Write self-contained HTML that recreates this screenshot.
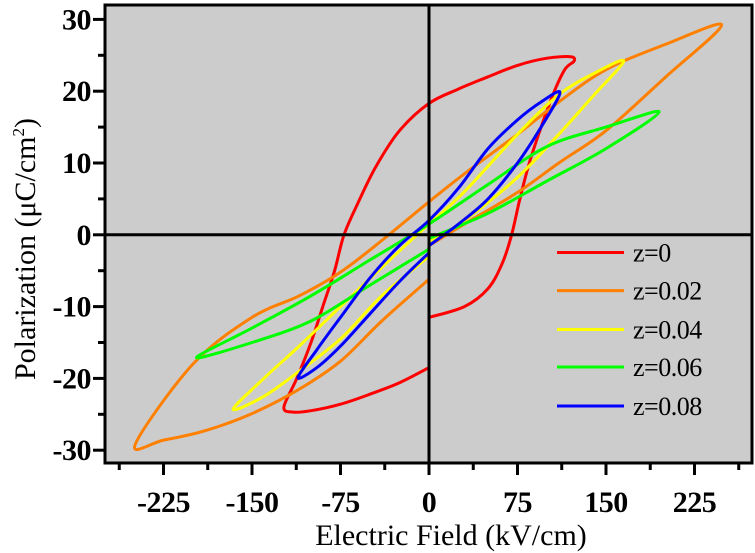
<!DOCTYPE html>
<html><head><meta charset="utf-8"><style>
body{margin:0;background:#fff;}
svg{display:block;font-family:"Liberation Serif",serif;}
</style></head><body>
<svg id="chart" width="755" height="553" viewBox="0 0 755 553"></svg>
<script>
const xTicks=[-225,-150,-75,0,75,150,225];
const yTicks=[-30,-20,-10,0,10,20,30];
const seriesNames=["z=0","z=0.02","z=0.04","z=0.06","z=0.08"];
const seriesColors=["#ff0000","#ff8000","#ffff00","#00ff00","#0000ff"];
const e0=[0,30,50,62,70,77,85,95,105,115,123,120,100,75,50,25,0,-25,-45,-60,-72,-80,-90,-100,-112,-123,-115,-100,-75,-50,-25,0];
const p0=[-11.5,-10,-7.5,-4,0,5,10,15,19.5,23,24.2,24.8,24.6,23.6,22,20.3,18.3,14.5,9.5,4.5,0,-5,-10,-15,-20,-24,-24.7,-24.5,-23.6,-22.2,-20.6,-18.5];
const e1=[0,30,75,110,150,200,248,200,150,110,75,30,0,-40,-75,-110,-150,-200,-249,-225,-190,-150,-110,-75,-40,0];
const p1=[-1.5,1.5,5.9,10,14.5,21.9,29.2,26.5,23,18.5,14,8.5,4.6,-0.8,-5.2,-8.5,-11.5,-18,-29.2,-28.6,-27.3,-24.9,-21.5,-17.6,-12,-6.2];
const e2=[0,30,75,110,140,165,140,110,75,30,0,-30,-75,-110,-140,-166,-140,-110,-75,-40,0];
const p2=[-1,2,8,14,19.5,24.2,22.5,19.5,14,6,1.5,-3,-10,-15.5,-20,-24.3,-22.5,-19,-14.5,-8.5,-3];
const e3=[0,50,100,150,195,150,100,50,0,-50,-100,-150,-197,-150,-100,-50,0];
const p3=[-0.5,3,7.5,12,17.1,15,12.3,7,1.5,-3.5,-8.5,-13,-17.1,-15,-12,-7,-2];
const e4=[0,25,50,75,95,111,95,75,50,25,0,-25,-50,-75,-95,-111,-95,-75,-50,-25,0];
const p4=[-1.5,1.5,5,10,15,19.8,18.5,16,12,6.5,2,-1.5,-6,-11.5,-16,-19.9,-18.5,-15.5,-11,-6.5,-2.5];
const seriesE=[e0,e1,e2,e3,e4], seriesP=[p0,p1,p2,p3,p4];

const L=105,R=752,T=5,B=463, X0=429, kx=1.18, Y0=234.8, ky=7.18;
const sx=v=>X0+v*kx, sy=v=>Y0-v*ky;
const svg=document.getElementById('chart');
const NS="http://www.w3.org/2000/svg";
function mk(t,a,p){const e=document.createElementNS(NS,t);for(const k in a)e.setAttribute(k,a[k]);(p||svg).appendChild(e);return e;}

const bg=mk('rect',{x:L,y:T,width:R-L,height:B-T,fill:'#cccccc'});



function spline(xs,ys){
  const pts=xs.map((x,i)=>[sx(x),sy(ys[i])]);
  let d='M'+pts[0][0].toFixed(1)+','+pts[0][1].toFixed(1);
  for(let i=0;i<pts.length-1;i++){
    const p0=pts[Math.max(i-1,0)],p1=pts[i],p2=pts[i+1],p3=pts[Math.min(i+2,pts.length-1)];
    const c1=[p1[0]+(p2[0]-p0[0])/6,p1[1]+(p2[1]-p0[1])/6];
    const c2=[p2[0]-(p3[0]-p1[0])/6,p2[1]-(p3[1]-p1[1])/6];
    d+=' C'+c1.map(v=>v.toFixed(1))+' '+c2.map(v=>v.toFixed(1))+' '+p2.map(v=>v.toFixed(1));
  }
  return d;
}
for(let s=0;s<seriesE.length;s++){
  const path=mk('path',{d:spline(seriesE[s],seriesP[s]),fill:'none',stroke:seriesColors[s],'stroke-width':3,'stroke-linejoin':'round'});
  
  
}
const zx=mk('line',{x1:sx(0),x2:sx(0),y1:T,y2:B,stroke:'#000','stroke-width':3});


const zy=mk('line',{x1:L,x2:R,y1:sy(0),y2:sy(0),stroke:'#000','stroke-width':3});


const fr=mk('rect',{x:L,y:T,width:R-L,height:B-T,fill:'none',stroke:'#000','stroke-width':3});



for(let v=-262.5;v<=263;v+=37.5){
  const major=Math.abs(v%75)<0.01;
  const t=mk('line',{x1:sx(v),x2:sx(v),y1:B,y2:B+(major?12:7),stroke:'#000','stroke-width':3});
  
  
}
for(const v of xTicks){
  const t=mk('text',{x:sx(v),y:512,'text-anchor':'middle','font-size':30,'font-weight':'bold','letter-spacing':-0.5});
  t.textContent=v;
  
  
}
for(let v=-30;v<=30;v+=5){
  const major=v%10===0;
  const t=mk('line',{x1:L,x2:L-(major?12:7),y1:sy(v),y2:sy(v),stroke:'#000','stroke-width':3});
  
  
}
for(const v of yTicks){
  const t=mk('text',{x:91,y:sy(v)+10,'text-anchor':'end','font-size':30,'font-weight':'bold','letter-spacing':-0.5});
  t.textContent=v;
  
  
}
const xt=mk('text',{x:451,y:545,'text-anchor':'middle','font-size':30});
xt.textContent='Electric Field (kV/cm)';


const yt=mk('text',{x:0,y:0,'text-anchor':'middle','font-size':30,transform:'translate(35,249) rotate(-90)'});
yt.innerHTML='Polarization (μC/cm<tspan dy="-11" font-size="17">2</tspan><tspan dy="11">)</tspan>';



const legendY=[252.5,290.6,329.5,367,406];
for(let s=0;s<seriesNames.length;s++){
  const g=mk('g',{});
  
  
  mk('line',{x1:557,x2:624,y1:legendY[s],y2:legendY[s],stroke:seriesColors[s],'stroke-width':3},g);
  const t=mk('text',{x:633,y:legendY[s]+9,'font-size':26,'letter-spacing':-0.5},g);
  t.textContent=seriesNames[s];
}
</script>
</body></html>
